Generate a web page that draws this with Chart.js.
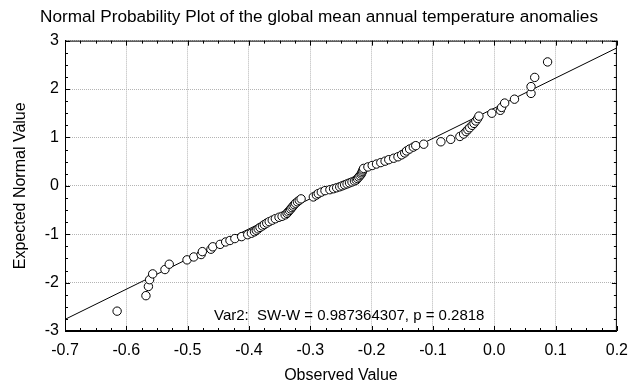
<!DOCTYPE html>
<html>
<head>
<meta charset="utf-8">
<script src="https://cdn.jsdelivr.net/npm/chart.js@4"></script>
<style>
  html, body { margin: 0; padding: 0; background: #fff; }
  #wrap { width: 638px; height: 387px; }
</style>
</head>
<body>
<div id="wrap"><canvas id="probChart" width="638" height="387"></canvas></div>
<script>
const obsX = [
  -0.615, -0.568, -0.564, -0.562, -0.557, -0.537, -0.530, -0.501, -0.490, -0.478,
  -0.476, -0.462, -0.459, -0.447, -0.438, -0.431, -0.423, -0.412, -0.402, -0.396,
  -0.391, -0.388, -0.385, -0.382, -0.378, -0.375, -0.371, -0.367, -0.362, -0.357,
  -0.351, -0.346, -0.341, -0.338, -0.336, -0.334, -0.332, -0.330, -0.328, -0.326,
  -0.324, -0.321, -0.318, -0.315, -0.295, -0.290, -0.287, -0.282, -0.276, -0.268,
  -0.262, -0.257, -0.252, -0.248, -0.244, -0.240, -0.236, -0.232, -0.228, -0.225,
  -0.223, -0.221, -0.219, -0.217, -0.216, -0.215, -0.214, -0.213, -0.206, -0.199,
  -0.192, -0.185, -0.178, -0.172, -0.164, -0.157, -0.151, -0.146, -0.143, -0.138,
  -0.132, -0.128, -0.115, -0.087, -0.071, -0.056, -0.050, -0.046, -0.043, -0.040,
  -0.036, -0.033, -0.030, -0.027, -0.025, -0.004, 0.010, 0.012, 0.017, 0.033,
  0.060, 0.060, 0.066, 0.087
];
const expY = [
  -2.59, -2.27, -2.08, -1.94, -1.82, -1.73, -1.62, -1.53, -1.47, -1.42,
  -1.36, -1.31, -1.26, -1.21, -1.16, -1.13, -1.09, -1.05, -1.01, -0.98,
  -0.95, -0.92, -0.89, -0.86, -0.83, -0.80, -0.77, -0.74, -0.71, -0.68,
  -0.65, -0.63, -0.60, -0.57, -0.54, -0.51, -0.48, -0.45, -0.42, -0.39,
  -0.36, -0.33, -0.30, -0.27, -0.23, -0.19, -0.16, -0.13, -0.10, -0.08,
  -0.06, -0.04, -0.02, 0.00, 0.02, 0.04, 0.06, 0.08, 0.10, 0.12,
  0.15, 0.18, 0.21, 0.24, 0.27, 0.30, 0.33, 0.36, 0.39, 0.42,
  0.45, 0.48, 0.51, 0.54, 0.57, 0.60, 0.64, 0.68, 0.72, 0.76,
  0.80, 0.83, 0.86, 0.91, 0.96, 1.02, 1.07, 1.12, 1.16, 1.20,
  1.25, 1.29, 1.34, 1.39, 1.44, 1.50, 1.56, 1.62, 1.71, 1.79,
  1.91, 2.05, 2.24, 2.56
];
// reference line end points
const fitX = [-0.7, 0.2];
const fitY = [-2.76, 2.85];
const statText = 'Var2:  SW-W = 0.987364307, p = 0.2818';

const FONT = 'Arial, "Liberation Sans", sans-serif';

const framePlugin = {
  id: 'frame',
  afterDatasetsDraw(chart) {
    const { ctx, chartArea: a, scales } = chart;
    const xs = scales.x, ys = scales.y;
    ctx.save();
    ctx.strokeStyle = '#000';
    ctx.lineWidth = 1;
    ctx.strokeRect(a.left + 0.5, a.top + 0.5, a.right - a.left - 1, a.bottom - a.top - 1);
    ctx.beginPath();
    // x ticks, inside, top and bottom
    for (let i = 0; i <= 36; i++) {
      const v = -0.7 + i * 0.025;
      const px = Math.round(xs.getPixelForValue(v)) + 0.5;
      const len = i % 4 === 0 ? 5 : 3;
      ctx.moveTo(px, a.bottom); ctx.lineTo(px, a.bottom - len);
      ctx.moveTo(px, a.top); ctx.lineTo(px, a.top + len);
    }
    // y ticks, inside, left and right
    for (let i = 0; i <= 24; i++) {
      const v = -3 + i * 0.25;
      const py = Math.round(ys.getPixelForValue(v)) + 0.5;
      const len = i % 4 === 0 ? 5 : 3;
      ctx.moveTo(a.left, py); ctx.lineTo(a.left + len, py);
      ctx.moveTo(a.right, py); ctx.lineTo(a.right - len, py);
    }
    ctx.stroke();
    // statistics text
    ctx.fillStyle = '#000';
    ctx.font = '15px ' + FONT;
    ctx.textBaseline = 'middle';
    ctx.textAlign = 'left';
    ctx.fillText(statText, xs.getPixelForValue(-0.457), ys.getPixelForValue(-2.68));
    ctx.restore();
  }
};

const ctx = document.getElementById('probChart').getContext('2d');
new Chart(ctx, {
  type: 'scatter',
  data: {
    datasets: [{
      label: 'Var2',
      data: obsX.map((x, i) => ({ x: x, y: expY[i] })),
      pointRadius: 4.2,
      pointHoverRadius: 4.2,
      pointBackgroundColor: '#fff',
      pointBorderColor: '#000',
      pointBorderWidth: 1,
      order: 0
    }, {
      type: 'line',
      label: 'fit',
      data: fitX.map((x, i) => ({ x: x, y: fitY[i] })),
      borderColor: '#000',
      borderWidth: 1,
      pointRadius: 0,
      fill: false,
      order: 1
    }]
  },
  options: {
    responsive: false,
    animation: false,
    events: [],
    layout: { padding: { left: 11, right: 11, top: 0, bottom: 0 } },
    plugins: {
      legend: { display: false },
      tooltip: { enabled: false },
      title: {
        display: true,
        text: 'Normal Probability Plot of the global mean annual temperature anomalies',
        color: '#000',
        font: { family: FONT, size: 17.2, weight: 'normal' },
        padding: { top: 7, bottom: 13 }
      }
    },
    scales: {
      x: {
        type: 'linear',
        min: -0.7,
        max: 0.2,
        afterFit: (s) => { s.height = 56; },
        ticks: {
          stepSize: 0.1,
          color: '#000',
          padding: 10,
          maxRotation: 0,
          font: { family: FONT, size: 16 },
          callback: (v) => Math.abs(v) < 1e-9 ? '0.0' : Number(v).toFixed(1)
        },
        grid: { color: '#b4b4b4', drawTicks: false },
        border: { display: true, color: '#000', dash: [1, 1] },
        title: {
          display: true,
          text: 'Observed Value',
          color: '#000',
          font: { family: FONT, size: 16 },
          padding: { top: 0, bottom: 2 }
        }
      },
      y: {
        type: 'linear',
        min: -3,
        max: 3,
        afterFit: (s) => { s.width = 54; },
        ticks: {
          stepSize: 1,
          color: '#000',
          padding: 6,
          font: { family: FONT, size: 16 }
        },
        grid: { color: '#b4b4b4', drawTicks: false },
        border: { display: true, color: '#000', dash: [1, 1] },
        title: {
          display: true,
          text: 'Expected Normal Value',
          color: '#000',
          font: { family: FONT, size: 16 },
          padding: { top: 0, bottom: 0 }
        }
      }
    }
  },
  plugins: [framePlugin]
});
</script>
</body>
</html>
